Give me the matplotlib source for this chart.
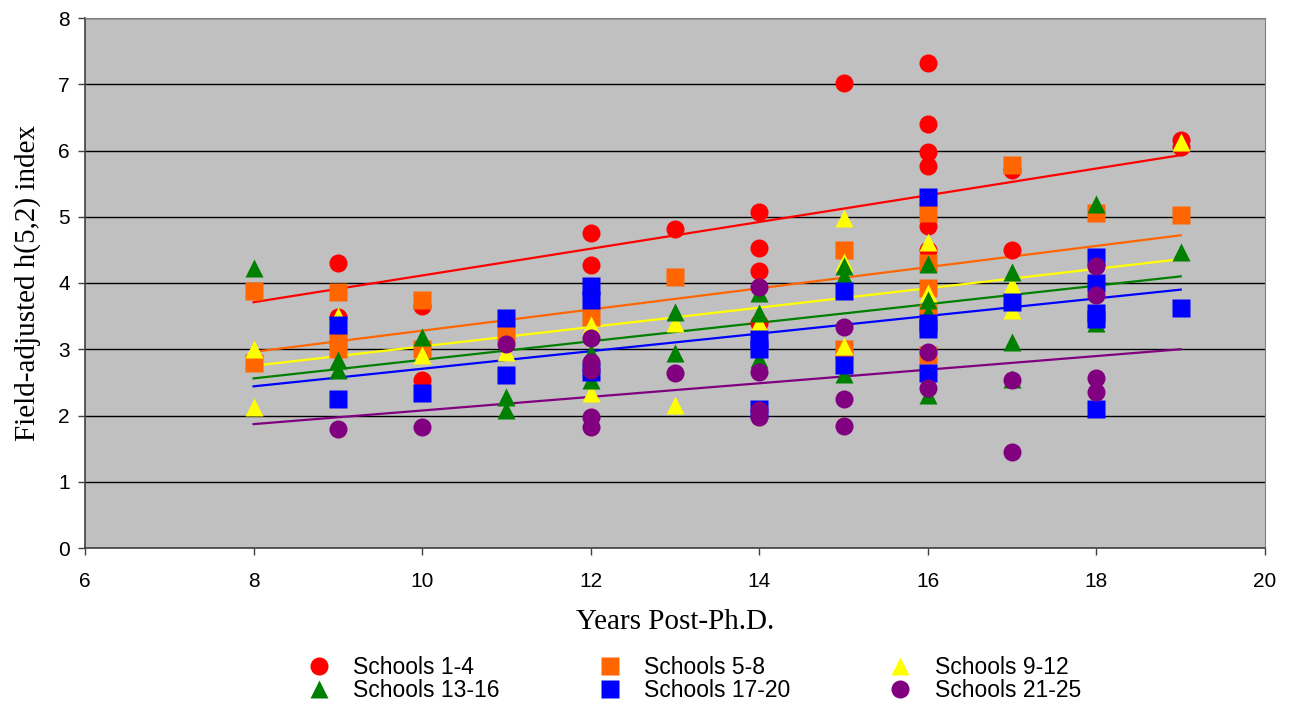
import matplotlib
matplotlib.use("Agg")
import matplotlib.pyplot as plt

# values
labels = ["Schools 1-4", "Schools 5-8", "Schools 9-12",
          "Schools 13-16", "Schools 17-20", "Schools 21-25"]
colors = ["#FF0000", "#FF6600", "#FFFF00", "#008000", "#0000FF", "#800080"]
markers = ["o", "s", "^", "^", "s", "o"]

x1 = [9, 9, 10, 10, 12, 12, 13, 14, 14, 14, 14, 15, 16, 16, 16, 16, 16, 16, 17, 17, 19, 19]
y1 = [4.30, 3.49, 3.65, 2.53, 4.75, 4.27, 4.82, 5.07, 4.53, 4.18, 3.40, 7.02,
      7.32, 6.40, 5.97, 5.77, 4.86, 4.50, 5.70, 4.50, 6.16, 6.06]

x2 = [8, 8, 9, 9, 9, 10, 10, 11, 12, 13, 15, 15, 16, 16, 16, 16, 16, 17, 18, 19]
y2 = [3.88, 2.79, 3.87, 3.17, 3.00, 3.74, 3.00, 3.24, 3.49, 4.09, 4.50, 3.00,
      5.06, 4.30, 3.92, 3.55, 2.91, 5.78, 5.06, 5.03]

x3 = [8, 8, 9, 10, 11, 12, 12, 13, 13, 14, 15, 15, 15, 16, 16, 17, 17, 19]
y3 = [3.00, 2.13, 3.50, 2.92, 2.96, 3.37, 2.34, 3.40, 2.16, 3.40, 4.98, 4.32,
      3.05, 4.62, 3.85, 3.97, 3.60, 6.13]

x4 = [8, 9, 9, 10, 11, 11, 12, 12, 13, 13, 14, 14, 14, 15, 15, 15, 16, 16, 16, 16,
      17, 17, 17, 18, 18, 19]
y4 = [4.22, 2.84, 2.69, 3.19, 2.28, 2.08, 2.94, 2.54, 3.56, 2.94, 3.85, 3.55, 2.85,
      4.25, 4.10, 2.62, 4.28, 3.74, 3.55, 2.31, 4.17, 3.11, 2.55, 5.20, 3.40, 4.47]

x5 = [9, 9, 10, 11, 11, 12, 12, 12, 14, 14, 14, 15, 15, 16, 16, 16, 16, 17,
      18, 18, 18, 18, 18, 19]
y5 = [3.37, 2.25, 2.34, 3.47, 2.61, 3.95, 3.75, 2.66, 3.15, 3.00, 2.10, 3.88, 2.76,
      5.30, 3.40, 3.30, 2.64, 3.72, 4.40, 4.00, 3.55, 3.45, 2.10, 3.62]

x6 = [9, 10, 11, 12, 12, 12, 12, 12, 13, 14, 14, 14, 14, 15, 15, 15, 16, 16, 17, 17,
      18, 18, 18, 18]
y6 = [1.80, 1.83, 3.08, 3.17, 2.81, 2.69, 1.97, 1.83, 2.64, 3.94, 2.66, 2.08, 1.98,
      3.33, 2.25, 1.84, 2.96, 2.42, 2.54, 1.45, 4.25, 3.82, 2.56, 2.36]

# linear trend lines (ends at x=8 and x=19), as drawn in the chart
trend_x = [8, 19]
trend_y = [[3.71, 5.93], [2.96, 4.72], [2.75, 4.36],
           [2.56, 4.10], [2.44, 3.90], [1.87, 3.00]]

xs = [x1, x2, x3, x4, x5, x6]
ys = [y1, y2, y3, y4, y5, y6]

fig = plt.figure(figsize=(12.98, 7.08), dpi=100)
ax = fig.add_axes([85/1298, 160/708, 1180/1298, 530/708])
ax.set_facecolor("#C0C0C0")

handles = []
for i in range(6):
    ax.plot(trend_x, trend_y[i], color=colors[i], lw=1.6, zorder=2)
for i in range(6):
    h, = ax.plot(xs[i], ys[i], ls="none", marker=markers[i], ms=13,
                 color=colors[i], mec="none", zorder=3 + i * 0.01)
    handles.append(h)

ax.set_xlim(6, 20)
ax.set_ylim(0, 8)
ax.set_xticks(range(6, 21, 2))
ax.set_yticks(range(0, 9))
ax.grid(axis="y", color="black", lw=1)
ax.set_axisbelow(True)

for s in ["top", "right"]:
    ax.spines[s].set_color("#808080")
for s in ["left", "bottom"]:
    ax.spines[s].set_color("#404040")
    ax.spines[s].set_linewidth(1.2)

ax.tick_params(axis="both", direction="out", length=5, width=1,
               labelsize=15, color="#404040")
ax.tick_params(axis="x", pad=12)
ax.tick_params(axis="y", pad=6)
for t in ax.get_xticklabels() + ax.get_yticklabels():
    t.set_fontfamily("Liberation Sans")

ax.set_xlabel("Years Post-Ph.D.", fontfamily="Liberation Serif", fontsize=21, labelpad=13)
ax.set_ylabel("Field-adjusted h(5,2) index", fontfamily="Liberation Serif", fontsize=21, labelpad=12)

# legend fills row by row in the reference: reorder for matplotlib's column fill
order = [0, 3, 1, 4, 2, 5]
fig.legend([handles[k] for k in order], [labels[k] for k in order],
           loc="center", ncol=3, bbox_to_anchor=(0.534, 0.041),
           frameon=False, prop={"family": "Liberation Sans", "size": 16.5},
           labelspacing=-0.03, columnspacing=4.2, handletextpad=0.9,
           handlelength=1.2, borderpad=0.1)

fig.savefig("out.png", dpi=100)
